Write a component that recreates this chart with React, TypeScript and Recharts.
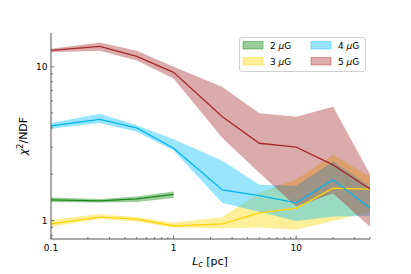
import { ComposedChart, Area, Line, XAxis, YAxis } from "recharts";

// coherence length L_c [pc]
const LC = [0.1, 0.25, 0.5, 1, 2.5, 5, 10, 20, 40];

// 2 uG only runs up to 1 pc
const B2_MID = [1.36, 1.34, 1.38, 1.48];
const B2_LOW = [1.32, 1.31, 1.32, 1.4];
const B2_HIGH = [1.41, 1.38, 1.43, 1.54];

const B3_MID = [0.95, 1.05, 1.02, 0.92, 0.95, 1.12, 1.2, 1.62, 1.6];
const B3_LOW = [0.91, 1.02, 0.985, 0.9, 0.89, 0.9, 0.87, 0.99, 1.14];
const B3_HIGH = [1.01, 1.1, 1.05, 0.97, 1.05, 1.52, 1.85, 2.67, 1.93];

const B4_MID = [4.12, 4.55, 4.0, 2.95, 1.58, 1.45, 1.3, 1.84, 1.2];
const B4_LOW = [3.95, 4.3, 3.78, 2.85, 1.3, 1.14, 0.99, 1.06, 1.07];
const B4_HIGH = [4.3, 4.95, 4.17, 3.38, 2.45, 1.71, 1.68, 2.42, 1.66];

const B5_MID = [12.8, 13.6, 11.7, 9.2, 4.73, 3.18, 3.0, 2.3, 1.6];
const B5_LOW = [12.45, 12.7, 11.0, 8.4, 3.44, 2.04, 1.23, 1.5, 0.91];
const B5_HIGH = [13.1, 14.4, 12.7, 10.0, 7.4, 4.98, 4.73, 5.5, 2.0];

const SERIES_KEYS = ["b2", "b3", "b4", "b5"];
const SERIES_NAMES = ["2", "3", "4", "5"];
const FILLS = ["#008000", "#ffd700", "#00bfff", "#a52a2a"];
const STROKES = ["#1b861b", "#ffd200", "#00b4f0", "#a52a2a"];

const X_TICKS = [
  0.1, 0.2, 0.3, 0.4, 0.5, 0.6, 0.7, 0.8, 0.9,
  1, 2, 3, 4, 5, 6, 7, 8, 9,
  10, 20, 30, 40,
];
const Y_TICKS = [0.8, 0.9, 1, 2, 3, 4, 5, 6, 7, 8, 9, 10];

const mids = [B2_MID, B3_MID, B4_MID, B5_MID];
const lows = [B2_LOW, B3_LOW, B4_LOW, B5_LOW];
const highs = [B2_HIGH, B3_HIGH, B4_HIGH, B5_HIGH];

const data = LC.map((x, i) => {
  const row: any = { x };
  SERIES_KEYS.forEach((k, s) => {
    if (mids[s][i] != null) {
      row[k] = mids[s][i];
      row[k + "r"] = [lows[s][i], highs[s][i]];
    }
  });
  return row;
});

const FONT = "'DejaVu Sans', sans-serif";
const AXIS = "#555";

const isMajor = (v: number) => {
  const l = Math.log10(v);
  return Math.abs(l - Math.round(l)) < 1e-9;
};

function XTick({ x, y, payload }: any) {
  const major = isMajor(payload.value);
  return (
    <g>
      <line x1={x} x2={x} y1={y} y2={y - (major ? 3.5 : 2)} stroke={AXIS} strokeWidth={0.8} />
      {major && (
        <text x={x} y={y + 11.5} textAnchor="middle" fontSize={9} fontFamily={FONT} fill="#000">
          {String(payload.value)}
        </text>
      )}
    </g>
  );
}

function YTick({ x, y, payload }: any) {
  const major = isMajor(payload.value);
  return (
    <g>
      <line x1={x} x2={x + (major ? 3.5 : 2)} y1={y} y2={y} stroke={AXIS} strokeWidth={0.8} />
      {major && (
        <text x={x - 3.5} y={y + 3.3} textAnchor="end" fontSize={9} fontFamily={FONT} fill="#000">
          {String(payload.value)}
        </text>
      )}
    </g>
  );
}

function Overlay() {
  return (
    <svg width={411} height={274} style={{ position: "absolute", left: 0, top: 0, pointerEvents: "none" }}>
      <text x={210} y={265} textAnchor="middle" fontSize={11} fontFamily={FONT} fill="#000">
        <tspan fontStyle="italic">L</tspan>
        <tspan fontStyle="italic" fontSize={8} dy={2}>c</tspan>
        <tspan dy={-2}> [pc]</tspan>
      </text>
      <text
        x={27}
        y={136}
        transform="rotate(-90, 27, 136)"
        textAnchor="middle"
        fontSize={11}
        fontFamily={FONT}
        fill="#000"
      >
        <tspan fontStyle="italic">χ</tspan>
        <tspan fontSize={8} dy={-4}>2</tspan>
        <tspan dy={4}>/NDF</tspan>
      </text>
      <rect x={239.5} y={37.5} width={126} height={34} rx={2.5} fill="#fff" fillOpacity={0.8} stroke="#d0d0d0" />
      {SERIES_NAMES.map((name, i) => {
        const px = i < 2 ? 243 : 311;
        const py = i % 2 === 0 ? 41.5 : 57.5;
        return (
          <g key={name}>
            <rect
              x={px}
              y={py}
              width={20}
              height={7.5}
              fill={FILLS[i]}
              fillOpacity={0.4}
              stroke={FILLS[i]}
              strokeOpacity={0.4}
            />
            <text x={px + 27} y={py + 7.2} fontSize={9} fontFamily={FONT} fill="#000">
              {name} <tspan fontStyle="italic">μ</tspan>G
            </text>
          </g>
        );
      })}
    </svg>
  );
}

export default function App() {
  return (
    <div style={{ position: "absolute", left: 0, top: 0, width: 411, height: 274, background: "#fff" }}>
      <ComposedChart width={411} height={274} data={data} margin={{ top: 33, right: 41, bottom: 0, left: 0 }}>
        <XAxis
          dataKey="x"
          type="number"
          scale="log"
          domain={[0.1, 40]}
          allowDataOverflow
          ticks={X_TICKS}
          interval={0}
          tickSize={0}
          tickMargin={0}
          tick={<XTick />}
          height={35}
          axisLine={{ stroke: AXIS }}
        />
        <XAxis
          xAxisId="top"
          orientation="top"
          dataKey="x"
          type="number"
          scale="log"
          domain={[0.1, 40]}
          allowDataOverflow
          height={0}
          tick={false}
          tickLine={false}
          axisLine={{ stroke: AXIS }}
        />
        <YAxis
          type="number"
          scale="log"
          domain={[0.757, 16.6]}
          allowDataOverflow
          ticks={Y_TICKS}
          interval={0}
          tickSize={0}
          tickMargin={0}
          tick={<YTick />}
          width={51}
          axisLine={{ stroke: AXIS }}
        />
        <YAxis
          yAxisId="right"
          orientation="right"
          type="number"
          scale="log"
          domain={[0.757, 16.6]}
          allowDataOverflow
          width={0}
          tick={false}
          tickLine={false}
          axisLine={{ stroke: AXIS }}
        />
        {SERIES_KEYS.map((k, i) => (
          <Area
            key={k + "r"}
            dataKey={k + "r"}
            type="linear"
            fill={FILLS[i]}
            fillOpacity={0.4}
            stroke="none"
            dot={false}
            activeDot={false}
            isAnimationActive={false}
          />
        ))}
        {SERIES_KEYS.map((k, i) => (
          <Line
            key={k}
            dataKey={k}
            type="linear"
            stroke={STROKES[i]}
            strokeWidth={1.3}
            dot={false}
            activeDot={false}
            isAnimationActive={false}
          />
        ))}
      </ComposedChart>
      <Overlay />
    </div>
  );
}
